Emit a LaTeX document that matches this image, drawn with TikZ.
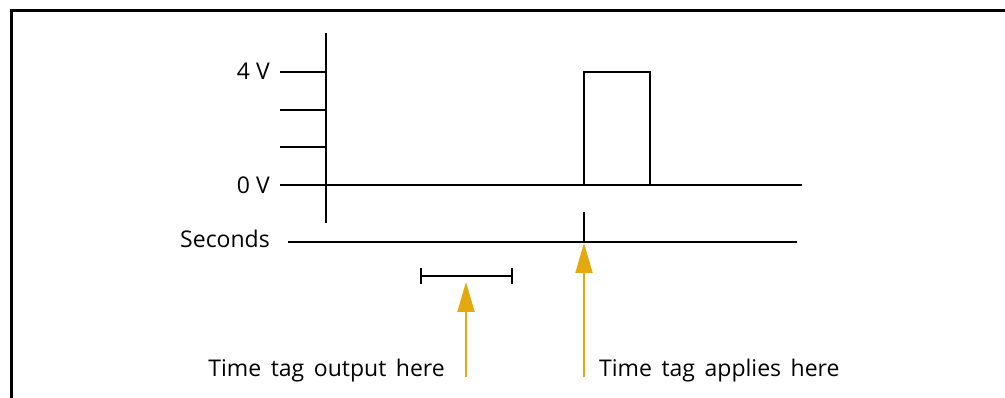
\documentclass[tikz,border=0pt]{standalone}
\usepackage{fontspec}
\setmainfont{Open Sans}
\newfontfamily\widefont{Open Sans}[WordSpace=1.6]
\usetikzlibrary{arrows.meta}
\definecolor{tagGold}{RGB}{228,169,14}
\begin{document}
\begin{tikzpicture}[x=1pt,y=-1pt,
  axis/.style={line width=2pt,black},
  frameline/.style={line width=3pt,black},
  tagarrow/.style={line width=2pt,tagGold,-{Triangle[length=30pt,width=17pt]}},
  lbl/.style={font=\fontsize{23}{27}\selectfont,inner sep=0pt},
  widelbl/.style={font=\widefont\fontsize{23}{27}\selectfont,inner sep=0pt}]
\useasboundingbox (0,0) rectangle (1005,398);
% frame (top and left)
\draw[frameline] (11.5,398) -- (11.5,10.5) -- (1005,10.5);
% vertical axis
\coordinate (vtop) at (326,33);
\coordinate (vbot) at (326,223);
\draw[axis] (vtop) -- (vbot);
% ticks
\coordinate (t4) at (280,72);
\coordinate (t3) at (280,110);
\coordinate (t2) at (280,147.5);
\coordinate (t0) at (280,185.5);
\draw[axis] (t4) -- (t4 -| vtop);
\draw[axis] (t3) -- (t3 -| vtop);
\draw[axis] (t2) -- (t2 -| vtop);
% signal baseline and pulse
\coordinate (send) at (802,185.5);
\draw[axis] (t0) -- (send);
\coordinate (p1) at (584,185.5);
\coordinate (p3) at (650,72);
\draw[axis] (p1) rectangle (p3);
% labels
\node[lbl,anchor=base east] (l4) at (270,80) {4 V};
\node[lbl,anchor=base east] (l0) at (270,193.3) {0 V};
\node[lbl,anchor=base east] (lsec) at (270,247.5) {Seconds};
% seconds line
\coordinate (s0) at (288,242);
\coordinate (s1) at (797,242);
\draw[axis] (s0) -- (s1);
\coordinate (tick) at (584,212);
\draw[axis] (tick) -- (tick |- s0);
% bracket
\coordinate (b0) at (421,276);
\coordinate (b1) at (512,276);
\draw[axis] (b0) -- (b1);
\draw[axis] ([yshift=-8]b0) -- ([yshift=8]b0);
\draw[axis] ([yshift=-8]b1) -- ([yshift=8]b1);
% arrows
\coordinate (a1b) at (466,377);
\coordinate (a1t) at (466,282);
\coordinate (a2b) at (584,377);
\coordinate (a2t) at (584,243);
\draw[tagarrow] (a1b) -- (a1t);
\draw[tagarrow] (a2b) -- (a2t);
% bottom labels
\node[widelbl,anchor=base east] (lout) at (445,376.7) {Time tag output here};
\node[widelbl,anchor=base west] (lapp) at (599,376.7) {Time tag applies here};
\end{tikzpicture}
\end{document}
